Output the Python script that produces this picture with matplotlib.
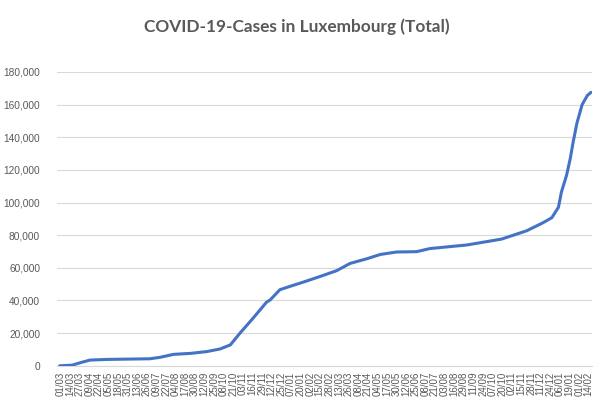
import matplotlib
matplotlib.use("Agg")
import matplotlib.pyplot as plt
import pandas as pd

dates = ['2020-02-29', '2020-03-17', '2020-03-28', '2020-04-10', '2020-05-03',
         '2020-06-30', '2020-07-14', '2020-08-01', '2020-08-24', '2020-09-15',
         '2020-10-03', '2020-10-17', '2020-10-30', '2020-11-17', '2020-12-05',
         '2020-12-10', '2020-12-23', '2021-01-06', '2021-01-24', '2021-02-16',
         '2021-03-10', '2021-03-28', '2021-04-20', '2021-05-08', '2021-05-30',
         '2021-06-26', '2021-07-14', '2021-09-02', '2021-10-19', '2021-11-22',
         '2021-12-14', '2021-12-26', '2022-01-04', '2022-01-08', '2022-01-15',
         '2022-01-20', '2022-01-24', '2022-01-29', '2022-02-05', '2022-02-12',
         '2022-02-17']
cases = [0, 400, 1900, 3500, 3900,
         4300, 5200, 7000, 7600, 8700,
         10300, 12800, 20000, 29300, 39000,
         40400, 46600, 48700, 51300, 54800,
         58300, 62700, 65600, 68200, 69700,
         69900, 71800, 74000, 77600, 82700,
         87600, 90700, 97100, 106400, 116700,
         127000, 137300, 148600, 159900, 165500,
         167500]

tick_start = '2020-03-01'
tick_end = '2022-02-14'
tick_step_days = 13
title = 'COVID-19-Cases in Luxembourg (Total)'
yticks = [0, 20000, 40000, 60000, 80000, 100000, 120000, 140000, 160000, 180000]

x = pd.to_datetime(dates)
ticks = pd.date_range(tick_start, tick_end, freq=f'{tick_step_days}D')

fig = plt.figure(figsize=(6.06, 4.11), dpi=100)
ax = fig.add_axes([0.0936, 0.110, 0.8828, 0.715])

grey = '#595959'
ax.plot(x, cases, color='#4472C4', linewidth=2.2, solid_capstyle='round', zorder=3)

ax.set_ylim(0, 180000)
ax.set_xlim(pd.Timestamp('2020-02-25'), pd.Timestamp('2022-02-18'))
ax.set_yticks(yticks)
ax.set_yticklabels([f'{v:,}' for v in yticks], fontsize=7.3, color=grey, family='Liberation Sans')
ax.set_xticks(ticks)
ax.set_xticklabels([t.strftime('%d/%m') for t in ticks], rotation=90, fontsize=7,
                   color=grey, family='Liberation Sans')
ax.tick_params(axis='both', length=0, pad=4)
ax.tick_params(axis='y', pad=12)
ax.grid(axis='y', color='#d9d9d9', linewidth=0.8, zorder=0)
for s in ['top', 'right', 'left']:
    ax.spines[s].set_visible(False)
ax.spines['bottom'].set_color('#d9d9d9')
ax.spines['bottom'].set_linewidth(0.8)

fig.text(0.490, 0.935, title, ha='center', va='center', fontsize=12.4,
         fontweight='bold', color=grey, family='Lato')

fig.savefig('out.png', dpi=100)
